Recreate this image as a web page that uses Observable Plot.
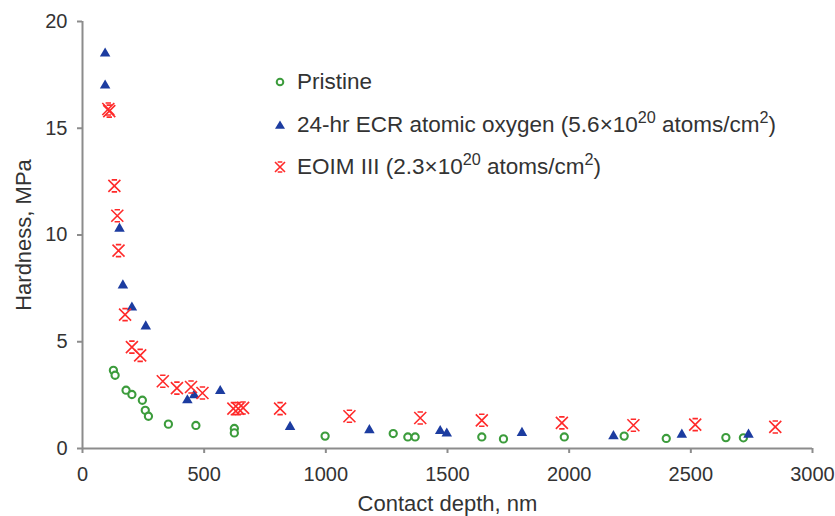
<!DOCTYPE html>
<html>
<head>
<meta charset="utf-8">
<script src="https://cdn.jsdelivr.net/npm/d3@7"></script>
<script src="https://cdn.jsdelivr.net/npm/@observablehq/plot@0.6"></script>
<style>
  html, body { margin: 0; padding: 0; background: #fff; }
  #wrap { position: relative; width: 835px; height: 516px; font-family: "Liberation Sans", Arial, sans-serif; }
  #legend { position: absolute; left: 270px; top: 71px; color: #333; font-size: 22.5px; line-height: 22px; }
  #legend .row { display: flex; align-items: center; height: 22px; margin-bottom: 20.5px; white-space: nowrap; }
  #legend svg { width: 20px; height: 20px; margin-right: 7px; flex: none; }
  #legend sup { font-size: 0.72em; vertical-align: 0.55em; line-height: 0; }
</style>
</head>
<body>
<div id="wrap">
  <div id="chart"></div>
  <div id="legend">
    <div class="row"><svg viewBox="-10 -10 20 20"><circle r="3.3" fill="white" stroke="#3c9c3c" stroke-width="2"/></svg><span>Pristine</span></div>
    <div class="row"><svg viewBox="-10 -10 20 20"><path d="M0,-4.5L5,3.8L-5,3.8Z" fill="#1c3ca0"/></svg><span>24-hr ECR atomic oxygen (5.6×10<sup>20</sup> atoms/cm<sup>2</sup>)</span></div>
    <div class="row"><svg viewBox="-10 -10 20 20"><path d="M-5,-5L5,5M-5,5L5,-5M-2.3,-5L2.3,-5M-2.3,5L2.3,5" stroke="#ff2a2a" stroke-width="1.6" fill="none"/></svg><span>EOIM III (2.3×10<sup>20</sup> atoms/cm<sup>2</sup>)</span></div>
  </div>
</div>
<script>
// ---- Data (contact depth in nm, hardness in MPa) ----
const pristineX = [127, 134, 179, 203, 246, 258, 271, 353, 466, 624, 624, 997, 1277, 1337, 1367, 1641, 1730, 1980, 2226, 2399, 2644, 2716];
const pristineY = [3.66, 3.43, 2.73, 2.53, 2.26, 1.79, 1.51, 1.14, 1.08, 0.94, 0.73, 0.58, 0.70, 0.54, 0.54, 0.54, 0.45, 0.54, 0.58, 0.47, 0.51, 0.50];

const ecrX = [93, 93, 152, 166, 203, 260, 431, 459, 566, 853, 1179, 1470, 1497, 1806, 2182, 2463, 2737];
const ecrY = [18.5, 17.0, 10.3, 7.64, 6.60, 5.72, 2.26, 2.49, 2.69, 1.01, 0.86, 0.82, 0.70, 0.73, 0.58, 0.65, 0.65];

const eoimX = [106, 110, 131, 143, 148, 175, 203, 237, 330, 388, 446, 493, 620, 640, 660, 812, 1097, 1388, 1641, 1970, 2264, 2518, 2847];
const eoimY = [15.9, 15.8, 12.3, 10.9, 9.27, 6.27, 4.75, 4.36, 3.15, 2.83, 2.88, 2.60, 1.87, 1.87, 1.90, 1.87, 1.51, 1.43, 1.32, 1.20, 1.09, 1.12, 1.01];

const xTicks = [0, 500, 1000, 1500, 2000, 2500, 3000];
const yTicks = [0, 5, 10, 15, 20];
const xTitle = "Contact depth, nm";
const yTitle = "Hardness, MPa";

const toRows = (xs, ys) => xs.map((x, i) => ({x, y: ys[i]}));
const pristine = toRows(pristineX, pristineY);
const ecr = toRows(ecrX, ecrY);
const eoim = toRows(eoimX, eoimY);

// Excel-like "star" marker: an X with short bars top and bottom
const starSymbol = {
  draw(context, size) {
    const r = Math.sqrt(size / Math.PI);
    const b = r * 0.45;
    context.moveTo(-r, -r); context.lineTo(r, r);
    context.moveTo(-r, r); context.lineTo(r, -r);
    context.moveTo(-b, -r); context.lineTo(b, -r);
    context.moveTo(-b, r); context.lineTo(b, r);
  }
};

const axisColor = "#8c8c8c";
const textColor = "#333";

const chart = Plot.plot({
  width: 835,
  height: 516,
  marginLeft: 82,
  marginRight: 23,
  marginTop: 21,
  marginBottom: 68,
  style: {fontFamily: "'Liberation Sans', Arial, sans-serif", color: textColor, background: "white"},
  x: {domain: [0, 3000]},
  y: {domain: [0, 20]},
  marks: [
    Plot.axisX({ticks: xTicks, tickFormat: d3.format("d"), tickSize: 5, tickPadding: 13, fontSize: 20, stroke: axisColor, strokeWidth: 2, fill: textColor,
      label: xTitle, labelAnchor: "center", labelArrow: "none", labelOffset: 62}),
    Plot.axisY({ticks: yTicks, tickFormat: d3.format("d"), tickSize: 5, tickPadding: 10, fontSize: 20, stroke: axisColor, strokeWidth: 2, fill: textColor,
      label: yTitle, labelAnchor: "center", labelArrow: "none", labelOffset: 67}),
    Plot.ruleX([0], {stroke: axisColor, strokeWidth: 2}),
    Plot.ruleY([0], {stroke: axisColor, strokeWidth: 2}),
    Plot.dot(pristine, {x: "x", y: "y", symbol: "circle", r: 3.6, stroke: "#3c9c3c", strokeWidth: 2.1, fill: "white"}),
    Plot.dot(ecr, {x: "x", y: "y", symbol: "triangle", r: 3.9, fill: "#1c3ca0", stroke: "none"}),
    Plot.dot(eoim, {x: "x", y: "y", symbol: starSymbol, r: 6, stroke: "#ff2a2a", strokeWidth: 1.6, fill: "none"})
  ]
});
document.getElementById("chart").appendChild(chart);
// title font sizes
chart.querySelectorAll("g[aria-label='x-axis label'] text, g[aria-label='y-axis label'] text").forEach(t => t.setAttribute("font-size", "22"));
</script>
</body>
</html>
